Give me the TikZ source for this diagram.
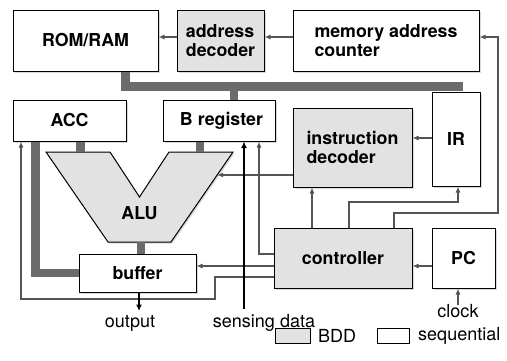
\documentclass[tikz,border=0pt]{standalone}
\usepackage{fontspec}
\setmainfont{TeX Gyre Heros}
\usetikzlibrary{arrows.meta,shadows}
\definecolor{bddgray}{HTML}{E2E2E2}
\definecolor{busgray}{HTML}{6B6B6B}
\definecolor{wiregray}{HTML}{555555}

\begin{document}
\begin{tikzpicture}[x=1pt,y=-1pt,
  box/.style={draw=black, line width=1pt, fill=white, inner sep=0pt, align=left,
     font=\fontsize{17.8}{19.5}\selectfont\bfseries,
     drop shadow={shadow xshift=1.5pt, shadow yshift=-1.5pt, opacity=0.3}},
  bdd/.style={box, fill=bddgray},
  bus/.style={draw=busgray, line width=8.5pt},
  wire/.style={draw=wiregray, line width=1.1pt, -{Latex[length=6pt,width=5pt]}},
  sig/.style={draw=black, line width=1.6pt, -{Latex[length=6.5pt,width=6pt]}},
  lbl/.style={font=\fontsize{18}{20}\selectfont, inner sep=0pt},
  blbl/.style={font=\fontsize{17.8}{19.5}\selectfont\bfseries, inner sep=0pt},
]
\useasboundingbox (0,0) rectangle (507,360);

% memory and address path
\node[box, minimum width=145pt, minimum height=61pt] (rom) at (85.5,40.5) {ROM/RAM};
\node[bdd, minimum width=87pt, minimum height=61pt] (addr) at (220.5,40.5) {address\\decoder};
\node[box, minimum width=186pt, minimum height=61pt] (mac) at (386,40.5) {memory address\\counter};

% registers
\node[box, minimum width=113pt, minimum height=41pt] (acc) at (69.5,120.5) {ACC};
\node[box, minimum width=112pt, minimum height=41pt] (breg) at (219,120.5) {\hspace{5pt}B register};
\node[bdd, minimum width=119pt, minimum height=79pt] (idec) at (352.5,147.5) {instruction\\decoder};
\node[box, minimum width=48pt, minimum height=94pt] (ir) at (456,139) {IR};

% ALU
\filldraw[fill=bddgray, draw=black, line width=1pt, line join=miter,
  drop shadow={shadow xshift=1.5pt, shadow yshift=-1.5pt, opacity=0.3}]
  (46,152) -- (110,152) -- (139.5,197) -- (169,152) -- (233,152)
  -- (171,242) -- (108,242) -- cycle;
\node[blbl] (alu) at (139.5,213) {ALU};
\coordinate (aluR) at (217.2,175);
\coordinate (aluT1) at (80.5,152);
\coordinate (aluT2) at (200,152);
\coordinate (aluB) at (141,242);

% control section
\node[box, minimum width=117pt, minimum height=38pt] (buf) at (137.5,273) {buffer};
\node[bdd, minimum width=138pt, minimum height=60pt] (ctrl) at (343,258) {controller};
\node[box, minimum width=63pt, minimum height=60pt] (pc) at (463.5,258) {PC};

% external labels
\node[lbl] (out) at (130,323) {output};
\node[lbl] (sens) at (264,323) {sensing data};
\node[lbl] (clk) at (458,311) {clock};
\coordinate (sensTop) at (244,309);
\coordinate (outTip) at (139,311);

% data paths
\coordinate (busL) at (125.5,86.5);
\coordinate (busR) at (463,86.5);
\coordinate (busB) at (234,86.5);
\draw[bus, line join=miter] (rom.south -| busL) -- (busL) -- (busR);
\draw[bus] (busB) -- (breg.north -| busB);
\draw[bus] (acc.south -| aluT1) -- (aluT1);
\draw[bus] (breg.south -| aluT2) -- (aluT2);
\draw[bus] (aluB) -- (buf.north -| aluB);
\draw[bus, line join=miter] (acc.south -| 35.5,0) -- (35.5,273) -- (buf.west);

% control wires
\draw[wire] (addr.west |- 0,37) -- (rom.east |- 0,37);
\draw[wire] (mac.west |- 0,37) -- (addr.east |- 0,37);
\draw[wire] (ctrl.north -| 394,0) |- (498,213) -- (498,37) -- (mac.east |- 0,37);
\draw[wire] (ctrl.north -| 349,0) |- (458,202) -- (ir.south -| 458,0);
\draw[wire] (ctrl.north -| 312,0) -- (idec.south -| 312,0);
\draw[wire] (ir.west |- 0,138) -- (idec.east |- 0,138);
\draw[wire] (idec.west |- aluR) -- (aluR);
\draw[wire] (ctrl.west |- 0,254) -| (breg.south -| 259,0);
\draw[wire] (ctrl.west |- 0,266) -- (buf.east |- 0,266);
\draw[wire] (ctrl.west |- 0,277) -| (215,299) -| (acc.south -| 21,0);
\draw[wire] (pc.west |- 0,266) -- (ctrl.east |- 0,266);
\draw[wire] ([yshift=-1pt]clk.north) -- (pc.south -| clk.north);

% external signals
\draw[sig] (sensTop) -- (breg.south -| sensTop);
\draw[sig] (buf.south -| outTip) -- (outTip);

% legend
\node[draw=black, line width=1pt, fill=bddgray, minimum width=35pt, minimum height=15pt, inner sep=0pt,
  drop shadow={shadow xshift=1.2pt, shadow yshift=-1.2pt, opacity=0.3}] (lgB) at (292.5,335.5) {};
\node[lbl, anchor=west] (lgBt) at (318,335.5) {BDD};
\node[draw=black, line width=1pt, fill=white, minimum width=32pt, minimum height=15pt, inner sep=0pt,
  drop shadow={shadow xshift=1.2pt, shadow yshift=-1.2pt, opacity=0.3}] (lgS) at (393,335.5) {};
\node[lbl, anchor=west] (lgSt) at (418,335.5) {sequential};
\end{tikzpicture}
\end{document}
